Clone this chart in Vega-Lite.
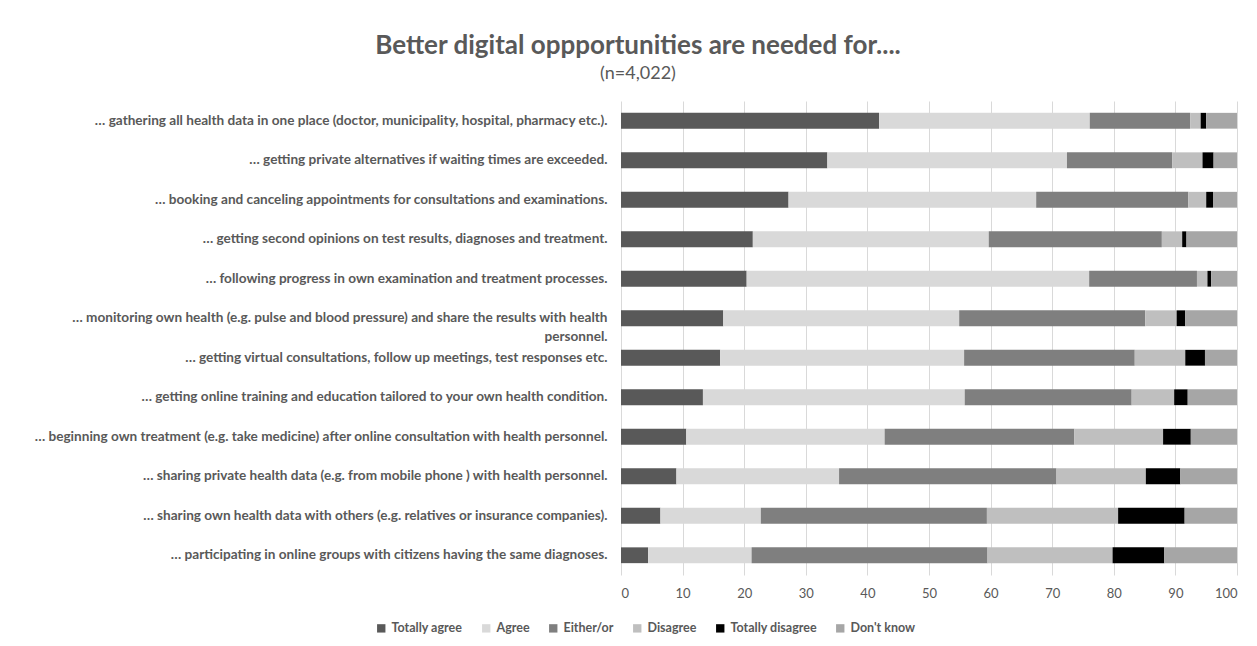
{
  "$schema": "https://vega.github.io/schema/vega-lite/v6.json",
  "width": 616,
  "height": 474,
  "autosize": {"type": "none"},
  "padding": {"left": 621, "top": 101, "right": 20, "bottom": 71},
  "background": "white",
  "title": {
    "text": "Better digital oppportunities are needed for....",
    "subtitle": "(n=4,022)",
    "anchor": "middle",
    "frame": "group",
    "dx": -291,
    "font": "Lato",
    "fontSize": 26,
    "fontWeight": "bold",
    "color": "#595959",
    "subtitleFont": "Lato",
    "subtitleFontSize": 18,
    "subtitleColor": "#595959",
    "subtitlePadding": 6,
    "offset": 18
  },
  "data": {
    "values": [
      {"row": 1, "item": "… gathering all health data in one place (doctor, municipality, hospital, pharmacy etc.).", "response": "Totally agree", "k": 1, "pct": 41.9},
      {"row": 1, "item": "… gathering all health data in one place (doctor, municipality, hospital, pharmacy etc.).", "response": "Agree", "k": 2, "pct": 34.2},
      {"row": 1, "item": "… gathering all health data in one place (doctor, municipality, hospital, pharmacy etc.).", "response": "Either/or", "k": 3, "pct": 16.3},
      {"row": 1, "item": "… gathering all health data in one place (doctor, municipality, hospital, pharmacy etc.).", "response": "Disagree", "k": 4, "pct": 1.7},
      {"row": 1, "item": "… gathering all health data in one place (doctor, municipality, hospital, pharmacy etc.).", "response": "Totally disagree", "k": 5, "pct": 0.9},
      {"row": 1, "item": "… gathering all health data in one place (doctor, municipality, hospital, pharmacy etc.).", "response": "Don't know", "k": 6, "pct": 5.0},

      {"row": 2, "item": "… getting private alternatives if waiting times are exceeded.", "response": "Totally agree", "k": 1, "pct": 33.5},
      {"row": 2, "item": "… getting private alternatives if waiting times are exceeded.", "response": "Agree", "k": 2, "pct": 38.9},
      {"row": 2, "item": "… getting private alternatives if waiting times are exceeded.", "response": "Either/or", "k": 3, "pct": 17.1},
      {"row": 2, "item": "… getting private alternatives if waiting times are exceeded.", "response": "Disagree", "k": 4, "pct": 4.9},
      {"row": 2, "item": "… getting private alternatives if waiting times are exceeded.", "response": "Totally disagree", "k": 5, "pct": 1.8},
      {"row": 2, "item": "… getting private alternatives if waiting times are exceeded.", "response": "Don't know", "k": 6, "pct": 3.8},

      {"row": 3, "item": "… booking and canceling appointments for consultations and examinations.", "response": "Totally agree", "k": 1, "pct": 27.2},
      {"row": 3, "item": "… booking and canceling appointments for consultations and examinations.", "response": "Agree", "k": 2, "pct": 40.2},
      {"row": 3, "item": "… booking and canceling appointments for consultations and examinations.", "response": "Either/or", "k": 3, "pct": 24.7},
      {"row": 3, "item": "… booking and canceling appointments for consultations and examinations.", "response": "Disagree", "k": 4, "pct": 2.9},
      {"row": 3, "item": "… booking and canceling appointments for consultations and examinations.", "response": "Totally disagree", "k": 5, "pct": 1.1},
      {"row": 3, "item": "… booking and canceling appointments for consultations and examinations.", "response": "Don't know", "k": 6, "pct": 3.9},

      {"row": 4, "item": "… getting second opinions on test results, diagnoses and treatment.", "response": "Totally agree", "k": 1, "pct": 21.4},
      {"row": 4, "item": "… getting second opinions on test results, diagnoses and treatment.", "response": "Agree", "k": 2, "pct": 38.3},
      {"row": 4, "item": "… getting second opinions on test results, diagnoses and treatment.", "response": "Either/or", "k": 3, "pct": 28.1},
      {"row": 4, "item": "… getting second opinions on test results, diagnoses and treatment.", "response": "Disagree", "k": 4, "pct": 3.3},
      {"row": 4, "item": "… getting second opinions on test results, diagnoses and treatment.", "response": "Totally disagree", "k": 5, "pct": 0.7},
      {"row": 4, "item": "… getting second opinions on test results, diagnoses and treatment.", "response": "Don't know", "k": 6, "pct": 8.2},

      {"row": 5, "item": "… following progress in own examination and treatment processes.", "response": "Totally agree", "k": 1, "pct": 20.4},
      {"row": 5, "item": "… following progress in own examination and treatment processes.", "response": "Agree", "k": 2, "pct": 55.6},
      {"row": 5, "item": "… following progress in own examination and treatment processes.", "response": "Either/or", "k": 3, "pct": 17.5},
      {"row": 5, "item": "… following progress in own examination and treatment processes.", "response": "Disagree", "k": 4, "pct": 1.7},
      {"row": 5, "item": "… following progress in own examination and treatment processes.", "response": "Totally disagree", "k": 5, "pct": 0.6},
      {"row": 5, "item": "… following progress in own examination and treatment processes.", "response": "Don't know", "k": 6, "pct": 4.2},

      {"row": 6, "item": "… monitoring own health (e.g. pulse and blood pressure) and share the results with health|personnel.", "response": "Totally agree", "k": 1, "pct": 16.6},
      {"row": 6, "item": "… monitoring own health (e.g. pulse and blood pressure) and share the results with health|personnel.", "response": "Agree", "k": 2, "pct": 38.3},
      {"row": 6, "item": "… monitoring own health (e.g. pulse and blood pressure) and share the results with health|personnel.", "response": "Either/or", "k": 3, "pct": 30.2},
      {"row": 6, "item": "… monitoring own health (e.g. pulse and blood pressure) and share the results with health|personnel.", "response": "Disagree", "k": 4, "pct": 5.1},
      {"row": 6, "item": "… monitoring own health (e.g. pulse and blood pressure) and share the results with health|personnel.", "response": "Totally disagree", "k": 5, "pct": 1.4},
      {"row": 6, "item": "… monitoring own health (e.g. pulse and blood pressure) and share the results with health|personnel.", "response": "Don't know", "k": 6, "pct": 8.4},

      {"row": 7, "item": "… getting virtual consultations, follow up meetings, test responses etc.", "response": "Totally agree", "k": 1, "pct": 16.1},
      {"row": 7, "item": "… getting virtual consultations, follow up meetings, test responses etc.", "response": "Agree", "k": 2, "pct": 39.6},
      {"row": 7, "item": "… getting virtual consultations, follow up meetings, test responses etc.", "response": "Either/or", "k": 3, "pct": 27.7},
      {"row": 7, "item": "… getting virtual consultations, follow up meetings, test responses etc.", "response": "Disagree", "k": 4, "pct": 8.2},
      {"row": 7, "item": "… getting virtual consultations, follow up meetings, test responses etc.", "response": "Totally disagree", "k": 5, "pct": 3.2},
      {"row": 7, "item": "… getting virtual consultations, follow up meetings, test responses etc.", "response": "Don't know", "k": 6, "pct": 5.2},

      {"row": 8, "item": "… getting online training and education tailored to your own health condition.", "response": "Totally agree", "k": 1, "pct": 13.3},
      {"row": 8, "item": "… getting online training and education tailored to your own health condition.", "response": "Agree", "k": 2, "pct": 42.5},
      {"row": 8, "item": "… getting online training and education tailored to your own health condition.", "response": "Either/or", "k": 3, "pct": 27.1},
      {"row": 8, "item": "… getting online training and education tailored to your own health condition.", "response": "Disagree", "k": 4, "pct": 6.9},
      {"row": 8, "item": "… getting online training and education tailored to your own health condition.", "response": "Totally disagree", "k": 5, "pct": 2.2},
      {"row": 8, "item": "… getting online training and education tailored to your own health condition.", "response": "Don't know", "k": 6, "pct": 8.0},

      {"row": 9, "item": "… beginning own treatment (e.g. take medicine) after online consultation with health personnel.", "response": "Totally agree", "k": 1, "pct": 10.6},
      {"row": 9, "item": "… beginning own treatment (e.g. take medicine) after online consultation with health personnel.", "response": "Agree", "k": 2, "pct": 32.2},
      {"row": 9, "item": "… beginning own treatment (e.g. take medicine) after online consultation with health personnel.", "response": "Either/or", "k": 3, "pct": 30.8},
      {"row": 9, "item": "… beginning own treatment (e.g. take medicine) after online consultation with health personnel.", "response": "Disagree", "k": 4, "pct": 14.4},
      {"row": 9, "item": "… beginning own treatment (e.g. take medicine) after online consultation with health personnel.", "response": "Totally disagree", "k": 5, "pct": 4.5},
      {"row": 9, "item": "… beginning own treatment (e.g. take medicine) after online consultation with health personnel.", "response": "Don't know", "k": 6, "pct": 7.5},

      {"row": 10, "item": "… sharing private health data (e.g. from mobile phone ) with health personnel.", "response": "Totally agree", "k": 1, "pct": 9.0},
      {"row": 10, "item": "… sharing private health data (e.g. from mobile phone ) with health personnel.", "response": "Agree", "k": 2, "pct": 26.4},
      {"row": 10, "item": "… sharing private health data (e.g. from mobile phone ) with health personnel.", "response": "Either/or", "k": 3, "pct": 35.3},
      {"row": 10, "item": "… sharing private health data (e.g. from mobile phone ) with health personnel.", "response": "Disagree", "k": 4, "pct": 14.5},
      {"row": 10, "item": "… sharing private health data (e.g. from mobile phone ) with health personnel.", "response": "Totally disagree", "k": 5, "pct": 5.6},
      {"row": 10, "item": "… sharing private health data (e.g. from mobile phone ) with health personnel.", "response": "Don't know", "k": 6, "pct": 9.2},

      {"row": 11, "item": "… sharing own health data with others (e.g. relatives or insurance companies).", "response": "Totally agree", "k": 1, "pct": 6.4},
      {"row": 11, "item": "… sharing own health data with others (e.g. relatives or insurance companies).", "response": "Agree", "k": 2, "pct": 16.3},
      {"row": 11, "item": "… sharing own health data with others (e.g. relatives or insurance companies).", "response": "Either/or", "k": 3, "pct": 36.7},
      {"row": 11, "item": "… sharing own health data with others (e.g. relatives or insurance companies).", "response": "Disagree", "k": 4, "pct": 21.3},
      {"row": 11, "item": "… sharing own health data with others (e.g. relatives or insurance companies).", "response": "Totally disagree", "k": 5, "pct": 10.8},
      {"row": 11, "item": "… sharing own health data with others (e.g. relatives or insurance companies).", "response": "Don't know", "k": 6, "pct": 8.5},

      {"row": 12, "item": "… participating in online groups with citizens having the same diagnoses.", "response": "Totally agree", "k": 1, "pct": 4.4},
      {"row": 12, "item": "… participating in online groups with citizens having the same diagnoses.", "response": "Agree", "k": 2, "pct": 16.8},
      {"row": 12, "item": "… participating in online groups with citizens having the same diagnoses.", "response": "Either/or", "k": 3, "pct": 38.3},
      {"row": 12, "item": "… participating in online groups with citizens having the same diagnoses.", "response": "Disagree", "k": 4, "pct": 20.3},
      {"row": 12, "item": "… participating in online groups with citizens having the same diagnoses.", "response": "Totally disagree", "k": 5, "pct": 8.4},
      {"row": 12, "item": "… participating in online groups with citizens having the same diagnoses.", "response": "Don't know", "k": 6, "pct": 11.8}
    ]
  },
  "mark": {"type": "bar"},
  "encoding": {
    "y": {
      "field": "item",
      "type": "nominal",
      "sort": {"field": "row", "op": "min", "order": "ascending"},
      "scale": {"paddingInner": 0.6, "paddingOuter": 0.3},
      "axis": {
        "title": null,
        "ticks": false,
        "domain": false,
        "grid": false,
        "labelExpr": "split(datum.value, '|')",
        "labelFont": "Lato",
        "labelFontSize": 13.6,
        "labelFontWeight": "bold",
        "labelColor": "#595959",
        "labelPadding": 14,
        "labelLimit": 700,
        "labelLineHeight": 19
      }
    },
    "x": {
      "field": "pct",
      "type": "quantitative",
      "stack": "zero",
      "scale": {"domain": [0, 100], "nice": false},
      "axis": {
        "title": null,
        "values": [0, 10, 20, 30, 40, 50, 60, 70, 80, 90, 100],
        "grid": true,
        "gridColor": "#d9d9d9",
        "gridWidth": 1,
        "domain": false,
        "ticks": false,
        "labelFont": "Lato",
        "labelFontSize": 13,
        "labelColor": "#595959",
        "labelPadding": 12
      }
    },
    "color": {
      "field": "response",
      "type": "nominal",
      "scale": {
        "domain": ["Totally agree", "Agree", "Either/or", "Disagree", "Totally disagree", "Don't know"],
        "range": ["#595959", "#d9d9d9", "#7f7f7f", "#bfbfbf", "#000000", "#a6a6a6"]
      },
      "legend": {
        "title": null,
        "orient": "none",
        "direction": "horizontal",
        "legendX": -246,
        "legendY": 521,
        "symbolType": "square",
        "symbolSize": 70,
        "symbolStrokeWidth": 0,
        "labelFont": "Lato",
        "labelFontSize": 12.5,
        "labelFontWeight": "bold",
        "labelColor": "#595959",
        "columnPadding": 17,
        "labelOffset": 4
      }
    },
    "order": {"field": "k", "type": "quantitative"}
  },
  "config": {
    "view": {"stroke": null}
  }
}
